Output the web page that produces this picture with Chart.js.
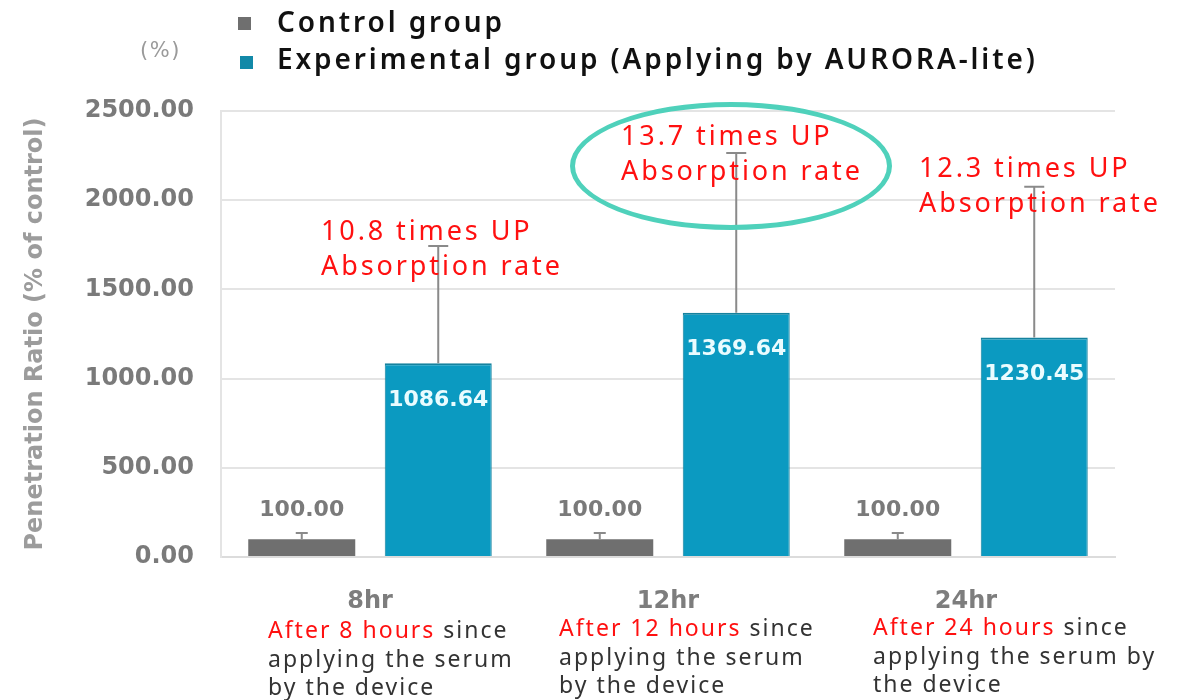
<!DOCTYPE html>
<html>
<head>
<meta charset="utf-8">
<script src="https://cdn.jsdelivr.net/npm/chart.js@4.4.0/dist/chart.umd.min.js"></script>
<style>
  body { margin: 0; background: #fff; }
  #wrap { position: relative; width: 1184px; height: 700px; overflow: hidden; }
  #chart { position: absolute; left: 0; top: 0; }
  .txt { position: absolute; font-family: "Noto Sans", sans-serif; white-space: nowrap; }
  .legend { font-size: 28px; font-weight: 600; color: #111; letter-spacing: 2.9px; line-height: 36px; }
  .sq { position: absolute; width: 13px; height: 13px; }
  .note { font-size: 27px; color: #ff1010; line-height: 35px; letter-spacing: 2.9px; }
  .sub { font-size: 23px; color: #333; line-height: 28.5px; letter-spacing: 2px; }
  .sub span { color: #ff1010; }
  #ring { position: absolute; left: 570px; top: 102px; width: 322px; height: 128px;
          border: 5px solid #4fd1bb; border-radius: 50%; box-sizing: border-box; }
</style>
</head>
<body>
<div id="wrap">
  <canvas id="chart" width="1184" height="700"></canvas>

  <div class="sq" style="left:238px;top:17px;background:#6f6f6f"></div>
  <div class="sq" style="left:240px;top:56px;background:#1289a8"></div>
  <div class="txt legend" style="left:277px;top:3px">Control group</div>
  <div class="txt legend" style="left:277px;top:40px">Experimental group (Applying by AURORA-lite)</div>
  <div class="txt" style="left:140px;top:38px;font-size:21px;color:#9a9a9a;letter-spacing:1.5px;font-family:'DejaVu Sans',sans-serif">(%)</div>

  <div id="ring"></div>
  <div class="txt note" style="left:321px;top:212px">10.8 times UP<br>Absorption rate</div>
  <div class="txt note" style="left:621px;top:117px">13.7 times UP<br>Absorption rate</div>
  <div class="txt note" style="left:919px;top:149px">12.3 times UP<br>Absorption rate</div>

  <div class="txt sub" style="left:268px;top:615px"><span>After 8 hours</span> since<br>applying the serum<br>by the device</div>
  <div class="txt sub" style="left:559px;top:613px"><span>After 12 hours</span> since<br>applying the serum<br>by the device</div>
  <div class="txt sub" style="left:873px;top:612px"><span>After 24 hours</span> since<br>applying the serum by<br>the device</div>
</div>

<script>
const categories = ['8hr', '12hr', '24hr'];
const controlValues = [100.00, 100.00, 100.00];
const experimentalValues = [1086.64, 1369.64, 1230.45];
// error bar sizes (upper only)
const controlErrors = [35, 35, 35];
const experimentalErrors = [657, 895, 845];
const yTicks = [0, 500, 1000, 1500, 2000, 2500];

const errors = [controlErrors, experimentalErrors];

// draws the upper error whiskers and the value labels
const barExtras = {
  id: 'barExtras',
  afterDatasetsDraw(chart) {
    const ctx = chart.ctx;
    const yScale = chart.scales.y;
    chart.data.datasets.forEach((ds, di) => {
      const meta = chart.getDatasetMeta(di);
      meta.data.forEach((bar, i) => {
        const top = yScale.getPixelForValue(ds.data[i] + errors[di][i]);
        const capW = di === 0 ? 6 : 10;
        ctx.save();
        ctx.strokeStyle = '#8a8a8a';
        ctx.lineWidth = 2;
        ctx.beginPath();
        ctx.moveTo(bar.x, bar.y);
        ctx.lineTo(bar.x, top);
        ctx.moveTo(bar.x - capW, top);
        ctx.lineTo(bar.x + capW, top);
        ctx.stroke();

        ctx.font = 'bold 22px "DejaVu Sans", sans-serif';
        ctx.textAlign = 'center';
        ctx.textBaseline = 'middle';
        const label = ds.data[i].toFixed(2);
        if (di === 0) {
          ctx.fillStyle = '#7a7a7a';
          ctx.fillText(label, bar.x, bar.y - 29);
        } else {
          ctx.fillStyle = '#eafcff';
          ctx.fillText(label, bar.x, bar.y + 37);
        }
        ctx.restore();
      });
    });
  }
};

new Chart(document.getElementById('chart').getContext('2d'), {
  type: 'bar',
  data: {
    labels: categories,
    datasets: [
      {
        label: 'Control group',
        data: controlValues,
        backgroundColor: '#6f6f6f',
        categoryPercentage: 0.916,
        barPercentage: 0.784,
      },
      {
        label: 'Experimental group (Applying by AURORA-lite)',
        data: experimentalValues,
        backgroundColor: '#0b9ac1',
        borderColor: '#15829e',
        borderWidth: { top: 2, left: 1, right: 1, bottom: 0 },
        categoryPercentage: 0.916,
        barPercentage: 0.784,
      },
    ],
  },
  options: {
    responsive: false,
    animation: false,
    layout: { padding: { top: 111, right: 69, left: 0, bottom: 0 } },
    plugins: {
      legend: { display: false },
      tooltip: { enabled: false },
    },
    scales: {
      x: {
        grid: { display: false, drawTicks: false },
        border: { display: true, color: '#dcdcdc', width: 2 },
        ticks: {
          padding: 30,
          color: '#7d7d7d',
          font: { family: 'DejaVu Sans', size: 24, weight: 'bold' },
        },
        afterFit(scale) { scale.height = 143; },
      },
      y: {
        min: 0,
        max: 2500,
        afterBuildTicks(scale) { scale.ticks = yTicks.map(v => ({ value: v })); },
        grid: { color: '#e4e4e4', lineWidth: 2, drawTicks: false },
        border: { display: true, color: '#e4e4e4', width: 2 },
        ticks: {
          padding: 27,
          color: '#7a7a7a',
          font: { family: 'DejaVu Sans', size: 24, weight: 'bold' },
          callback: v => Number(v).toFixed(2),
        },
        title: {
          display: true,
          text: 'Penetration Ratio (% of control)',
          color: '#9c9c9c',
          font: { family: 'DejaVu Sans', size: 24, weight: 'bold' },
          padding: { top: 21, bottom: 0 },
        },
        afterFit(scale) { scale.width = 221; },
      },
    },
  },
  plugins: [barExtras],
});
</script>
</body>
</html>
